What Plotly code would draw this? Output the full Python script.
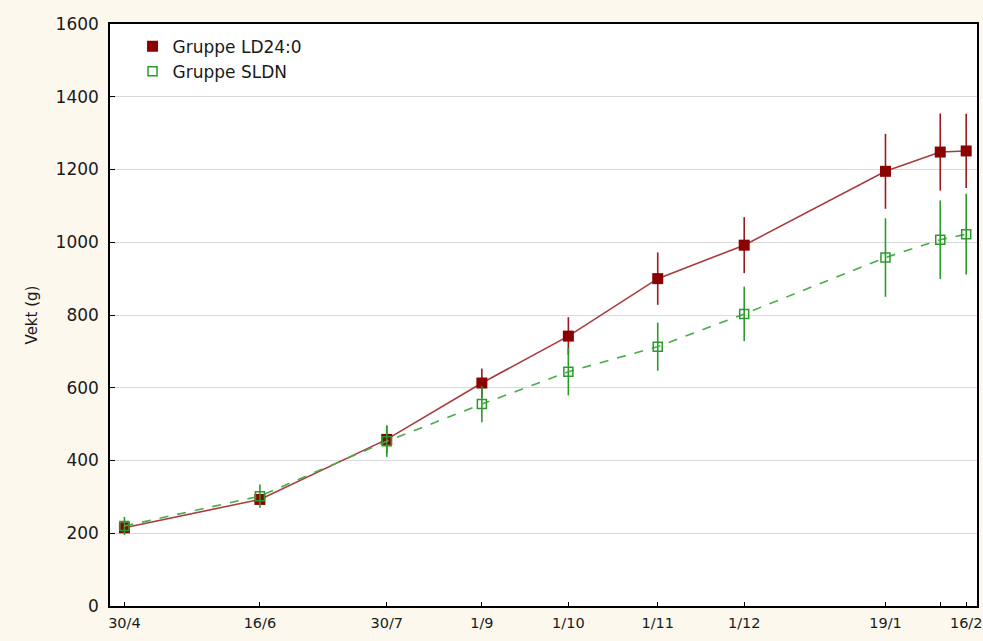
import plotly.graph_objects as go

# Maaledatoer (aar er bare brukt for plassering paa tidsaksen)
dates = ["2008-04-30", "2008-06-16", "2008-07-30", "2008-09-01", "2008-10-01",
         "2008-11-01", "2008-12-01", "2009-01-19", "2009-02-07", "2009-02-16"]
tick_text = ["30/4", "16/6", "30/7", "1/9", "1/10", "1/11", "1/12", "19/1", "", "16/2"]

# Gruppe LD24:0
ld_mean = [215, 293, 458, 613, 742, 900, 992, 1195, 1248, 1251]
ld_err = [14, 15, 38, 40, 52, 72, 77, 103, 106, 102]

# Gruppe SLDN
sldn_mean = [220, 302, 453, 555, 644, 713, 803, 958, 1007, 1022]
sldn_err = [25, 32, 43, 50, 65, 66, 75, 108, 108, 111]

RED = "#8b0000"
GREEN = "#2a9a2a"
FONT = "DejaVu Sans, Arial"

fig = go.Figure()

fig.add_trace(go.Scatter(
    x=dates, y=ld_mean, name="Gruppe LD24:0", mode="lines+markers",
    line=dict(color="#a83c3c", width=1.6),
    marker=dict(symbol="square", size=11, color=RED),
    error_y=dict(type="data", array=ld_err, color="#9b1b1b", thickness=1.6, width=0),
    showlegend=False,
))

fig.add_trace(go.Scatter(
    x=dates, y=sldn_mean, name="Gruppe SLDN", mode="lines+markers",
    line=dict(color="#4aab4a", width=1.6, dash="dash"),
    marker=dict(symbol="square-open", size=9, color=GREEN, line=dict(width=1.5)),
    error_y=dict(type="data", array=sldn_err, color=GREEN, thickness=1.6, width=0),
    showlegend=False,
))

# legend entries (markers only, like the original)
fig.add_trace(go.Scatter(
    x=[None], y=[None], name="Gruppe LD24:0", mode="markers",
    marker=dict(symbol="square", size=11, color=RED),
))
fig.add_trace(go.Scatter(
    x=[None], y=[None], name="Gruppe SLDN", mode="markers",
    marker=dict(symbol="square-open", size=9, color=GREEN, line=dict(width=1.5)),
))

fig.update_layout(
    width=983, height=641,
    margin=dict(l=110, r=4, t=24, b=35),
    paper_bgcolor="#fdf8ee",
    plot_bgcolor="white",
    font=dict(family=FONT, size=16, color="#1a1a1a"),
    showlegend=True,
    legend=dict(x=0.026, y=0.992, xanchor="left", yanchor="top",
                bgcolor="rgba(0,0,0,0)", font=dict(size=17), tracegroupgap=0,
                itemwidth=30),
)

fig.update_xaxes(
    type="date",
    range=["2008-04-25 00:00", "2009-02-19 18:00"],
    tickmode="array", tickvals=dates, ticktext=tick_text,
    ticks="inside", ticklen=4, tickcolor="black",
    showgrid=False, showline=True, linecolor="black", linewidth=1.5, mirror=True,
    tickfont=dict(size=14.5), ticklabelstandoff=3, ticklabeloverflow="allow",
    automargin=False,
)

fig.update_yaxes(
    range=[0, 1600], dtick=200,
    title=dict(text="Vekt (g)", font=dict(size=15), standoff=14),
    ticks="inside", ticklen=5, tickcolor="black",
    showgrid=True, gridcolor="#d9d9d9", gridwidth=1.2,
    showline=True, linecolor="black", linewidth=1.5, mirror=True,
    zeroline=False, tickfont=dict(size=17), ticklabelstandoff=6,
)

fig.write_html("out.html", config={"displayModeBar": False},
               post_script="document.body.style.margin='0';")
